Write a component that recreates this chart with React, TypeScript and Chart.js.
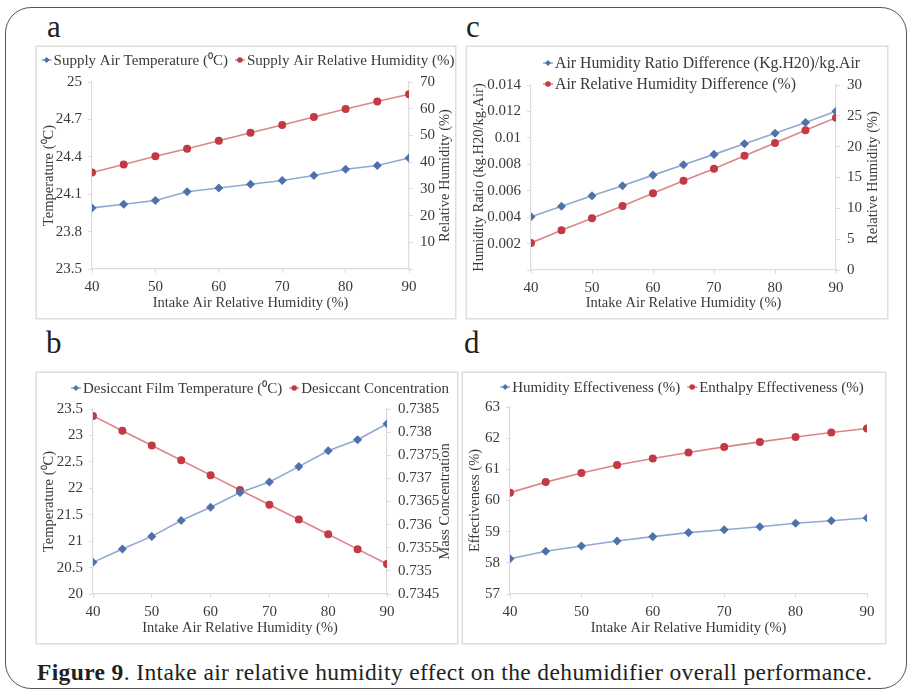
import React, { useEffect, useRef } from 'react';
import { Chart, registerables } from 'chart.js';

Chart.register(...registerables);

// ---------- data ----------
const intakeRH = [40, 45, 50, 55, 60, 65, 70, 75, 80, 85, 90];

const supplyTemp = [23.99, 24.02, 24.05, 24.12, 24.15, 24.18, 24.21, 24.25, 24.3, 24.33, 24.39];
const supplyRH = [36.1, 39.1, 42.2, 45.0, 48.0, 51.0, 53.9, 56.9, 59.9, 62.7, 65.4];

const humRatioDiff = [0.00403, 0.00482, 0.00561, 0.00637, 0.00718, 0.00797, 0.00875, 0.00956, 0.01035, 0.01116, 0.01202];
const rhDiff = [4.38, 6.43, 8.38, 10.38, 12.43, 14.49, 16.43, 18.54, 20.59, 22.65, 24.7];

const filmTemp = [20.6, 20.85, 21.09, 21.39, 21.64, 21.92, 22.12, 22.41, 22.71, 22.92, 23.22];
const concentration = [0.73835, 0.73803, 0.73771, 0.73739, 0.73707, 0.73675, 0.73643, 0.73611, 0.73579, 0.73547, 0.73515];

const humEff = [58.13, 58.37, 58.54, 58.7, 58.84, 58.97, 59.06, 59.16, 59.27, 59.35, 59.44];
const enthEff = [60.25, 60.59, 60.88, 61.14, 61.35, 61.54, 61.72, 61.88, 62.04, 62.18, 62.31];

const xTitle = 'Intake Air Relative Humidity (%)';

// ---------- style ----------
const FONT = "'Liberation Serif', 'Times New Roman', serif";
const TXT = '#3a3a3a';
const AXIS = '#dcdcdc';
const BLUE_LINE = '#8fa9d2';
const BLUE_PT = '#4e72ab';
const RED_LINE = '#dc858b';
const RED_PT = '#c23a44';

Chart.defaults.font.family = FONT;
Chart.defaults.color = TXT;

type Series = { label: string; data: number[]; axis: 'y' | 'y1'; blue: boolean };
type AxisSpec = { min: number; max: number; step: number; title: string; dec: number; hideZero?: boolean };

type PanelSpec = {
  box: { left: number; top: number; w: number; h: number };
  wLeft: number;
  wRight: number;
  top: number;
  bottom: number;
  series: Series[];
  left: AxisSpec;
  right?: AxisSpec;
  rightTitleX?: number;
  legend: { rows: number[][]; ys: number[]; centerX?: number; startX?: number; size?: number };
};

const fmt = (v: number, dec: number) => String(parseFloat(v.toFixed(dec)));

function makeConfig(p: PanelSpec): any {
  const datasets = p.series.map((s) => ({
    label: s.label,
    data: intakeRH.map((x, i) => ({ x, y: s.data[i] })),
    yAxisID: s.axis,
    borderColor: s.blue ? BLUE_LINE : RED_LINE,
    backgroundColor: s.blue ? BLUE_PT : RED_PT,
    pointBackgroundColor: s.blue ? BLUE_PT : RED_PT,
    pointBorderColor: s.blue ? BLUE_PT : RED_PT,
    pointStyle: s.blue ? 'rectRot' : 'circle',
    pointRadius: s.blue ? 3.4 : 3.2,
    borderWidth: 1.6,
    tension: 0,
  }));

  const axisCommon = (a: AxisSpec, pad: number) => ({
    min: a.min,
    max: a.max,
    ticks: {
      stepSize: a.step,
      color: TXT,
      padding: pad,
      font: { family: FONT, size: 15 },
      callback: (v: number) => (a.hideZero && Math.abs(v) < 1e-12 ? '' : fmt(v, a.dec)),
    },
    grid: { drawOnChartArea: false, color: AXIS, tickLength: 4 },
    border: { color: AXIS, width: 1.2 },
  });

  const scales: any = {
    x: {
      type: 'linear',
      min: 40,
      max: 90,
      ticks: { stepSize: 10, color: TXT, padding: 5, font: { family: FONT, size: 15 } },
      grid: { drawOnChartArea: false, color: AXIS, tickLength: 4 },
      border: { color: AXIS, width: 1.2 },
      title: { display: true, text: xTitle, color: TXT, font: { family: FONT, size: 14.5 }, padding: { top: 0, bottom: 6 } },
      afterFit: (s: any) => {
        s.height = p.bottom;
      },
    },
    y: {
      position: 'left',
      ...axisCommon(p.left, 6),
      title: { display: true, text: p.left.title, color: TXT, font: { family: FONT, size: 14.5 }, padding: { top: 3, bottom: 0 } },
      afterFit: (s: any) => {
        s.width = p.wLeft;
      },
    },
  };
  if (p.right) {
    scales.y1 = {
      position: 'right',
      ...axisCommon(p.right, 7),
      afterFit: (s: any) => {
        s.width = p.wRight;
      },
    };
  }

  const overlay = {
    id: 'overlay',
    afterDraw(chart: any) {
      const ctx = chart.ctx as CanvasRenderingContext2D;
      const ca = chart.chartArea;
      ctx.save();
      // right axis title, reading bottom-to-top
      if (p.right && p.rightTitleX !== undefined) {
        ctx.font = `14.5px ${FONT}`;
        ctx.fillStyle = TXT;
        ctx.textAlign = 'center';
        ctx.textBaseline = 'middle';
        ctx.translate(p.rightTitleX, (ca.top + ca.bottom) / 2);
        ctx.rotate(-Math.PI / 2);
        ctx.fillText(p.right.title, 0, 0);
        ctx.setTransform(1, 0, 0, 1, 0, 0);
      }
      // legend
      ctx.font = `${p.legend.size || 15}px ${FONT}`;
      ctx.textBaseline = 'middle';
      ctx.textAlign = 'left';
      const gap = 7;
      p.legend.rows.forEach((row, ri) => {
        const y = p.legend.ys[ri];
        const widths = row.map((i) => 12 + ctx.measureText(p.series[i].label).width);
        const total = widths.reduce((a, b) => a + b, 0) + gap * (row.length - 1);
        let x = p.legend.startX !== undefined ? p.legend.startX : (p.legend.centerX as number) - total / 2;
        row.forEach((i, k) => {
          const s = p.series[i];
          const lc = s.blue ? BLUE_LINE : RED_LINE;
          const pc = s.blue ? BLUE_PT : RED_PT;
          ctx.strokeStyle = lc;
          ctx.lineWidth = 1.5;
          ctx.beginPath();
          ctx.moveTo(x - 1, y);
          ctx.lineTo(x + 9, y);
          ctx.stroke();
          ctx.fillStyle = pc;
          ctx.beginPath();
          if (s.blue) {
            ctx.moveTo(x + 4, y - 3);
            ctx.lineTo(x + 7, y);
            ctx.lineTo(x + 4, y + 3);
            ctx.lineTo(x + 1, y);
            ctx.closePath();
          } else {
            ctx.arc(x + 4, y, 2.8, 0, Math.PI * 2);
          }
          ctx.fill();
          ctx.fillStyle = TXT;
          ctx.fillText(s.label, x + 11, y + 1);
          x += widths[k] + gap;
        });
      });
      ctx.restore();
    },
  };

  return {
    type: 'line',
    data: { datasets },
    options: {
      animation: false,
      responsive: true,
      maintainAspectRatio: false,
      layout: { padding: { top: p.top, left: 0, right: p.right ? 0 : p.wRight, bottom: 0 } },
      plugins: { legend: { display: false }, tooltip: { enabled: false } },
      scales,
    },
    plugins: [overlay],
  };
}

const panels: { key: string; spec: PanelSpec }[] = [
  {
    key: 'a',
    spec: {
      box: { left: 37, top: 47, w: 418, h: 271 },
      wLeft: 55,
      wRight: 46,
      top: 35,
      bottom: 49,
      series: [
        { label: 'Supply Air Temperature (⁰C)', data: supplyTemp, axis: 'y', blue: true },
        { label: 'Supply Air Relative Humidity (%)', data: supplyRH, axis: 'y1', blue: false },
      ],
      left: { min: 23.5, max: 25, step: 0.3, title: 'Temperature (⁰C)', dec: 1 },
      right: { min: 0, max: 70, step: 10, title: 'Relative Humidity (%)', dec: 0, hideZero: true },
      rightTitleX: 408,
      legend: { rows: [[0, 1]], ys: [13], centerX: 212 },
    },
  },
  {
    key: 'c',
    spec: {
      box: { left: 467, top: 47, w: 420, h: 271 },
      wLeft: 64,
      wRight: 51,
      top: 38,
      bottom: 48,
      series: [
        { label: 'Air Humidity Ratio Difference (Kg.H20)/kg.Air', data: humRatioDiff, axis: 'y', blue: true },
        { label: 'Air Relative Humidity Difference (%)', data: rhDiff, axis: 'y1', blue: false },
      ],
      left: { min: 0, max: 0.014, step: 0.002, title: 'Humidity Ratio (kg.H20/kg.Air)', dec: 3, hideZero: true },
      right: { min: 0, max: 30, step: 5, title: 'Relative Humidity (%)', dec: 0 },
      rightTitleX: 406,
      legend: { rows: [[0], [1]], ys: [16, 37], startX: 77, size: 15.8 },
    },
  },
  {
    key: 'b',
    spec: {
      box: { left: 37, top: 373, w: 420, h: 270 },
      wLeft: 56,
      wRight: 70,
      top: 36,
      bottom: 49,
      series: [
        { label: 'Desiccant Film Temperature (⁰C)', data: filmTemp, axis: 'y', blue: true },
        { label: 'Desiccant Concentration', data: concentration, axis: 'y1', blue: false },
      ],
      left: { min: 20, max: 23.5, step: 0.5, title: 'Temperature (⁰C)', dec: 1 },
      right: { min: 0.7345, max: 0.7385, step: 0.0005, title: 'Mass Concentration', dec: 4 },
      rightTitleX: 408,
      legend: { rows: [[0, 1]], ys: [15], centerX: 224 },
    },
  },
  {
    key: 'd',
    spec: {
      box: { left: 463, top: 373, w: 422, h: 270 },
      wLeft: 47,
      wRight: 18,
      top: 34,
      bottom: 49,
      series: [
        { label: 'Humidity Effectiveness (%)', data: humEff, axis: 'y', blue: true },
        { label: 'Enthalpy Effectiveness (%)', data: enthEff, axis: 'y', blue: false },
      ],
      left: { min: 57, max: 63, step: 1, title: 'Effectiveness (%)', dec: 0 },
      legend: { rows: [[0, 1]], ys: [14], centerX: 220 },
    },
  },
];

const panelLabels = [
  { text: 'a', left: 47, top: 11 },
  { text: 'c', left: 466, top: 11 },
  { text: 'b', left: 46, top: 327 },
  { text: 'd', left: 464, top: 327 },
];

function ChartBox({ spec }: { spec: PanelSpec }) {
  const ref = useRef<HTMLCanvasElement | null>(null);
  useEffect(() => {
    if (!ref.current) return;
    const chart = new Chart(ref.current, makeConfig(spec));
    return () => chart.destroy();
  }, [spec]);
  const b = spec.box;
  return (
    <div
      style={{
        position: 'absolute',
        left: b.left,
        top: b.top,
        width: b.w,
        height: b.h,
        boxShadow: '0 0 0 1.5px #dedede',
        background: '#fff',
      }}
    >
      <canvas ref={ref} />
    </div>
  );
}

export default function App() {
  return (
    <div style={{ position: 'absolute', left: 0, top: 0, width: 910, height: 690, background: '#fff', overflow: 'hidden' }}>
      <div
        style={{
          position: 'absolute',
          left: 5,
          top: 7,
          width: 902,
          height: 682,
          border: '1.5px solid #555',
          borderRadius: 26,
          boxSizing: 'border-box',
        }}
      />
      {panelLabels.map((l) => (
        <div
          key={l.text}
          style={{ position: 'absolute', left: l.left, top: l.top, fontFamily: FONT, fontSize: 31, lineHeight: '31px', color: '#222' }}
        >
          {l.text}
        </div>
      ))}
      {panels.map((p) => (
        <ChartBox key={p.key} spec={p.spec} />
      ))}
      <div
        style={{
          position: 'absolute',
          left: 37,
          top: 660,
          fontFamily: FONT,
          fontSize: 23.5,
          lineHeight: '24px',
          letterSpacing: 0.37,
          color: '#231f20',
          whiteSpace: 'nowrap',
        }}
      >
        <b>Figure 9</b>. Intake air relative humidity effect on the dehumidifier overall performance.
      </div>
    </div>
  );
}
